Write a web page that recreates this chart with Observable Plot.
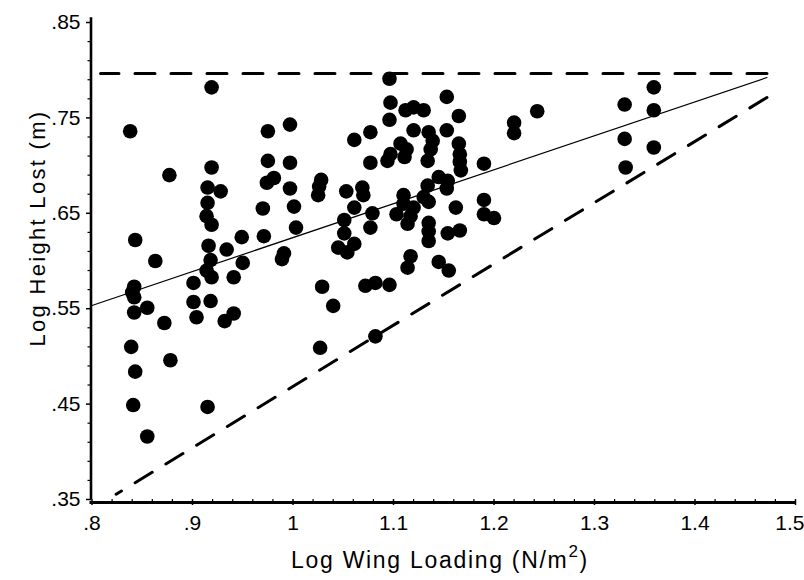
<!DOCTYPE html>
<html><head><meta charset="utf-8">
<script src="https://cdn.jsdelivr.net/npm/d3@7"></script>
<script src="https://cdn.jsdelivr.net/npm/@observablehq/plot@0.6"></script>
<style>
body{margin:0;background:#fff}
</style>
</head><body><div id="chart"></div>
<script>
// Log wing loading (x) and log height lost (y)
const wingLoading = [
  0.919,0.838,0.877,0.919,0.915,0.928,0.915,0.914,0.919,0.970,
  0.843,0.916,0.934,0.949,0.971,0.863,0.918,0.950,0.842,0.840,
  0.842,0.914,0.919,0.941,0.901,0.901,0.918,0.855,0.842,0.904,
  0.941,0.932,0.872,0.839,0.878,0.843,0.841,0.915,0.855,
  0.975,0.997,0.975,0.997,0.981,0.974,0.997,1.001,1.003,0.991,
  0.989,1.028,1.026,1.025,1.053,1.069,1.070,1.061,1.079,1.051,
  1.051,1.077,1.045,1.054,1.061,1.061,1.077,1.077,1.029,1.040,
  1.072,1.082,1.096,1.027,1.082,
  1.096,1.097,1.096,1.112,1.120,1.130,1.153,1.165,1.120,1.135,
  1.153,1.107,1.113,1.139,1.137,1.097,1.094,1.111,1.134,1.165,
  1.166,1.166,1.167,1.190,1.145,1.154,1.153,1.134,1.110,1.110,
  1.120,1.117,1.103,1.130,1.135,1.162,1.190,1.190,1.200,1.114,
  1.135,1.135,1.135,1.154,1.166,1.117,1.114,1.145,1.155,1.220,
  1.220,1.243,1.330,1.359,1.359,1.330,1.359,1.331
];
const heightLost = [
  0.782,0.736,0.690,0.698,0.677,0.673,0.661,0.647,0.638,0.655,
  0.622,0.616,0.612,0.625,0.626,0.600,0.601,0.598,0.573,0.567,
  0.562,0.590,0.583,0.583,0.577,0.557,0.558,0.551,0.546,0.541,
  0.545,0.537,0.535,0.510,0.496,0.484,0.449,0.447,0.416,
  0.736,0.743,0.705,0.703,0.687,0.682,0.676,0.657,0.635,0.608,
  0.602,0.685,0.678,0.669,0.673,0.677,0.669,0.656,0.650,0.643,
  0.629,0.635,0.614,0.609,0.618,0.727,0.735,0.703,0.573,0.553,
  0.574,0.577,0.575,0.509,0.521,
  0.791,0.766,0.748,0.758,0.761,0.758,0.772,0.752,0.737,0.735,
  0.737,0.723,0.717,0.726,0.717,0.712,0.705,0.709,0.705,0.723,
  0.712,0.704,0.695,0.702,0.688,0.684,0.676,0.679,0.669,0.660,
  0.656,0.647,0.649,0.667,0.662,0.656,0.664,0.649,0.645,0.639,
  0.640,0.631,0.621,0.629,0.632,0.605,0.593,0.599,0.590,0.745,
  0.734,0.757,0.764,0.782,0.758,0.728,0.719,0.698
];
// Reference lines (endpoints)
const fitX = [0.8, 1.4716];
const fitY = [0.5534, 0.7923];
const upperX = [1.4716, 0.8085];
const upperY = [0.7965, 0.7965];
const lowerX = [1.4716, 0.824];
const lowerY = [0.7714, 0.3555];
// Ticks
const xTicks = [0.8,0.9,1.0,1.1,1.2,1.3,1.4,1.5];
const xLabels = [".8",".9","1","1.1","1.2","1.3","1.4","1.5"];
const yTicks = [0.35,0.45,0.55,0.65,0.75,0.85];
const yLabels = [".35",".45",".55",".65",".75",".85"];
const xMinor = d3.range(0, 36).map(i => +(0.8 + i*0.02).toFixed(2)).filter(v => Math.round(v*100) % 10 !== 0);
const yMinor = d3.range(0, 26).map(i => +(0.35 + i*0.02).toFixed(2)).filter(v => Math.round(v*100) % 10 !== 5);

const points = wingLoading.map((x, i) => ({x, y: heightLost[i]}));
const fit = fitX.map((x, i) => ({x, y: fitY[i]}));
const upper = upperX.map((x, i) => ({x, y: upperY[i]}));
const lower = lowerX.map((x, i) => ({x, y: lowerY[i]}));
const xLab = new Map(xTicks.map((t, i) => [t, xLabels[i]]));
const yLab = new Map(yTicks.map((t, i) => [t, yLabels[i]]));
const xTicksInner = xTicks.slice(0, -1);
const xTickLast = xTicks.slice(-1);

const plot = Plot.plot({
  width: 804, height: 580,
  marginLeft: 91.5, marginRight: 9, marginTop: 22, marginBottom: 81,
  x: {domain: [0.8, 1.5]},
  y: {domain: [0.35, 0.85]},
  style: {fontFamily: "'Liberation Sans', Arial, Helvetica, sans-serif", fontSize: "21px", color: "#000", background: "#fff"},
  marks: [
    Plot.axisX({ticks: xMinor, tickSize: 3.5, tickFormat: () => "", strokeWidth: 1.2, label: null}),
    Plot.axisX({ticks: xTicksInner, tickSize: 6, tickPadding: 10, tickFormat: d => xLab.get(d), strokeWidth: 1.5, label: null}),
    Plot.axisX({ticks: xTickLast, tickSize: 6, strokeWidth: 1.5, tickFormat: () => "", label: null}),
    Plot.axisX({ticks: xTickLast, tickSize: 0, tickPadding: 16, tickFormat: d => xLab.get(d), textAnchor: "end", dx: 9, label: null}),
    Plot.axisY({ticks: yMinor, tickSize: 4, tickFormat: () => "", strokeWidth: 1.2, label: null}),
    Plot.axisY({ticks: yTicks, tickSize: 5.5, tickPadding: 6, tickFormat: d => yLab.get(d), strokeWidth: 1.5, label: null}),
    Plot.ruleX([0.8], {stroke: "#000", strokeWidth: 2.6, dx: -1, y1: 0.35, y2: 0.855}),
    Plot.ruleY([0.35], {stroke: "#000", strokeWidth: 3, dy: 3, x1: 0.798, x2: 1.5}),
    Plot.line(upper, {x: "x", y: "y", stroke: "#000", strokeWidth: 3, strokeDasharray: "20,16"}),
    Plot.line(lower, {x: "x", y: "y", stroke: "#000", strokeWidth: 3, strokeDasharray: "20,16"}),
    Plot.line(fit, {x: "x", y: "y", stroke: "#000", strokeWidth: 1.2}),
    Plot.dot(points, {x: "x", y: "y", r: 7.3, fill: "#000", stroke: "none"})
  ]
});

const svg = d3.select(plot);
svg.append("text")
  .attr("transform", "translate(45,228) rotate(-90)")
  .attr("text-anchor", "middle")
  .attr("fill", "#000")
  .style("font-size", "22px")
  .style("letter-spacing", "2.3px")
  .text("Log Height Lost (m)");
const xt = svg.append("text")
  .attr("x", 440).attr("y", 568)
  .attr("text-anchor", "middle")
  .attr("fill", "#000")
  .style("font-size", "23px")
  .style("letter-spacing", "1.7px");
xt.append("tspan").text("Log Wing Loading (N/m");
xt.append("tspan").attr("dy", -11).style("font-size", "17px").text("2");
xt.append("tspan").attr("dy", 11).text(")");

document.getElementById("chart").appendChild(plot);
</script>
</body></html>
